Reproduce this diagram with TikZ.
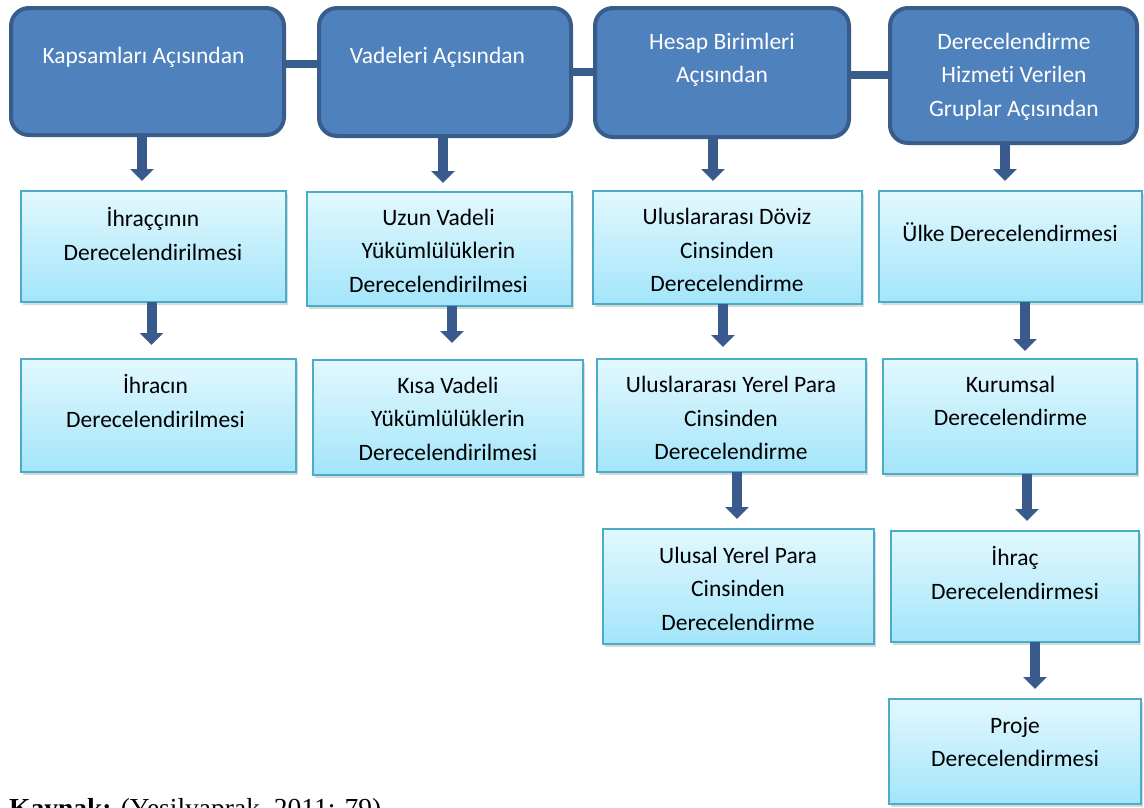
\documentclass[tikz,border=0pt]{standalone}
\usepackage{fontspec}
\setmainfont{Carlito}[Ligatures=NoCommon]
\newfontfamily\capfont{Liberation Serif}
\usetikzlibrary{arrows.meta,shadows}
\definecolor{bfill}{RGB}{79,129,189}
\definecolor{bline}{RGB}{56,93,138}
\definecolor{ltop}{RGB}{226,248,254}
\definecolor{lbot}{RGB}{163,229,250}
\definecolor{lline}{RGB}{75,172,198}
\definecolor{arrc}{RGB}{56,90,140}
\tikzset{
  topbox/.style={draw=bline, fill=bfill, line width=4pt, rounded corners=18pt, inner sep=0pt, outer sep=0pt},
  subbox/.style={draw=lline, line width=1.8pt, top color=ltop, bottom color=lbot, inner sep=0pt, outer sep=0pt,
     drop shadow={shadow xshift=2pt, shadow yshift=-3pt, opacity=0.3}},
  wtxt/.style={text=white, align=center, inner sep=0pt, font=\fontsize{23.5}{33.5}\selectfont},
  ktxt/.style={text=black, align=center, inner sep=0pt, font=\fontsize{23.5}{33.5}\selectfont},
  arr/.style={draw=arrc, line width=10pt, -{Triangle[width=23pt,length=12pt]}},
  conn/.style={draw=bline, line width=8pt}
}
\begin{document}
\begin{tikzpicture}[x=1pt, y=-1pt]
\useasboundingbox (0,0) rectangle (1144,807);

% top boxes
\node[topbox, minimum width=273pt, minimum height=127pt] (b1) at (147.5,71.5) {};
\node[topbox, minimum width=252pt, minimum height=128pt] (b2) at (445,72) {};
\node[topbox, minimum width=254pt, minimum height=129pt] (b3) at (722,72.5) {};
\node[topbox, minimum width=247pt, minimum height=135pt] (b4) at (1013.5,75.5) {};

\node[wtxt] (tb1) at (143.5,57) {Kapsamları Açısından};
\node[wtxt] (tb2) at (437.5,57) {Vadeleri Açısından};
\node[wtxt] (tb3) at (722,60) {Hesap Birimleri\\Açısından};
\node[wtxt] (tb4) at (1014,76.5) {Derecelendirme\\Hizmeti Verilen\\Gruplar Açısından};

% connectors between top boxes
\draw[conn] (b1.east |- 0,64) -- (b2.west |- 0,64);
\draw[conn] (b2.east |- 0,72) -- (b3.west |- 0,72);
\draw[conn] (b3.east |- 0,75) -- (b4.west |- 0,75);

% sub boxes
\node[subbox, minimum width=265pt, minimum height=111pt] (l1) at (153.5,246.5) {};
\node[subbox, minimum width=275pt, minimum height=113pt] (l2) at (158.5,415.5) {};
\node[subbox, minimum width=265pt, minimum height=114pt] (u1) at (439.5,249) {};
\node[subbox, minimum width=270pt, minimum height=115pt] (u2) at (448,417.5) {};
\node[subbox, minimum width=269pt, minimum height=113pt] (d1) at (727.5,247.5) {};
\node[subbox, minimum width=269pt, minimum height=113pt] (d2) at (731.5,415.5) {};
\node[subbox, minimum width=271pt, minimum height=115pt] (d3) at (738.5,586.5) {};
\node[subbox, minimum width=263pt, minimum height=111pt] (g1) at (1010.5,246.5) {};
\node[subbox, minimum width=254pt, minimum height=115pt] (g2) at (1010,416.5) {};
\node[subbox, minimum width=248pt, minimum height=111pt] (g3) at (1015,586.5) {};
\node[subbox, minimum width=252pt, minimum height=105pt] (g4) at (1015,751.5) {};

\node[ktxt] (tl1) at (153,234) {İhraççının\\Derecelendirilmesi};
\node[ktxt] (tl2) at (155.5,401) {İhracın\\Derecelendirilmesi};
\node[ktxt] (tu1) at (438.5,250.5) {Uzun Vadeli\\Yükümlülüklerin\\Derecelendirilmesi};
\node[ktxt] (tu2) at (448,418.5) {Kısa Vadeli\\Yükümlülüklerin\\Derecelendirilmesi};
\node[ktxt] (td1) at (727,250) {Uluslararası Döviz\\Cinsinden\\Derecelendirme};
\node[ktxt] (td2) at (731,418) {Uluslararası Yerel Para\\Cinsinden\\Derecelendirme};
\node[ktxt] (td3) at (738,588.5) {Ulusal Yerel Para\\Cinsinden\\Derecelendirme};
\node[ktxt] (tg1) at (1010,232) {Ülke Derecelendirmesi};
\node[ktxt] (tg2) at (1010.5,401) {Kurumsal\\Derecelendirme};
\node[ktxt] (tg3) at (1015,573) {İhraç\\Derecelendirmesi};
\node[ktxt] (tg4) at (1015,742) {Proje\\Derecelendirmesi};

% arrows
\draw[arr, shorten >=10pt] (142,0 |- b1.south) -- (142,0 |- l1.north);
\draw[arr, shorten >=9pt]  (443,0 |- b2.south) -- (443,0 |- u1.north);
\draw[arr, shorten >=10pt] (713,0 |- b3.south) -- (713,0 |- d1.north);
\draw[arr, shorten >=10pt] (1005,0 |- b4.south) -- (1005,0 |- g1.north);
\draw[arr, shorten >=14pt] (151.5,0 |- l1.south) -- (151.5,0 |- l2.north);
\draw[arr, shorten >=17pt] (452,0 |- u1.south) -- (452,0 |- u2.north);
\draw[arr, shorten >=12pt] (723,0 |- d1.south) -- (723,0 |- d2.north);
\draw[arr, shorten >=10pt] (737,0 |- d2.south) -- (737,0 |- d3.north);
\draw[arr, shorten >=8pt]  (1025,0 |- g1.south) -- (1025,0 |- g2.north);
\draw[arr, shorten >=10pt] (1027,0 |- g2.south) -- (1027,0 |- g3.north);
\draw[arr, shorten >=10pt] (1035,0 |- g3.south) -- (1035,0 |- g4.north);

% caption (cut off at the bottom edge, as in the reference)
\begin{scope}
\clip (0,0) rectangle (1144,807);
\node[anchor=base west, inner sep=0pt, font=\capfont\fontsize{27.5}{30}\selectfont] (cap) at (9,817) {\textbf{Kaynak:} (Yeşilyaprak, 2011: 79)};
\end{scope}
\end{tikzpicture}
\end{document}
